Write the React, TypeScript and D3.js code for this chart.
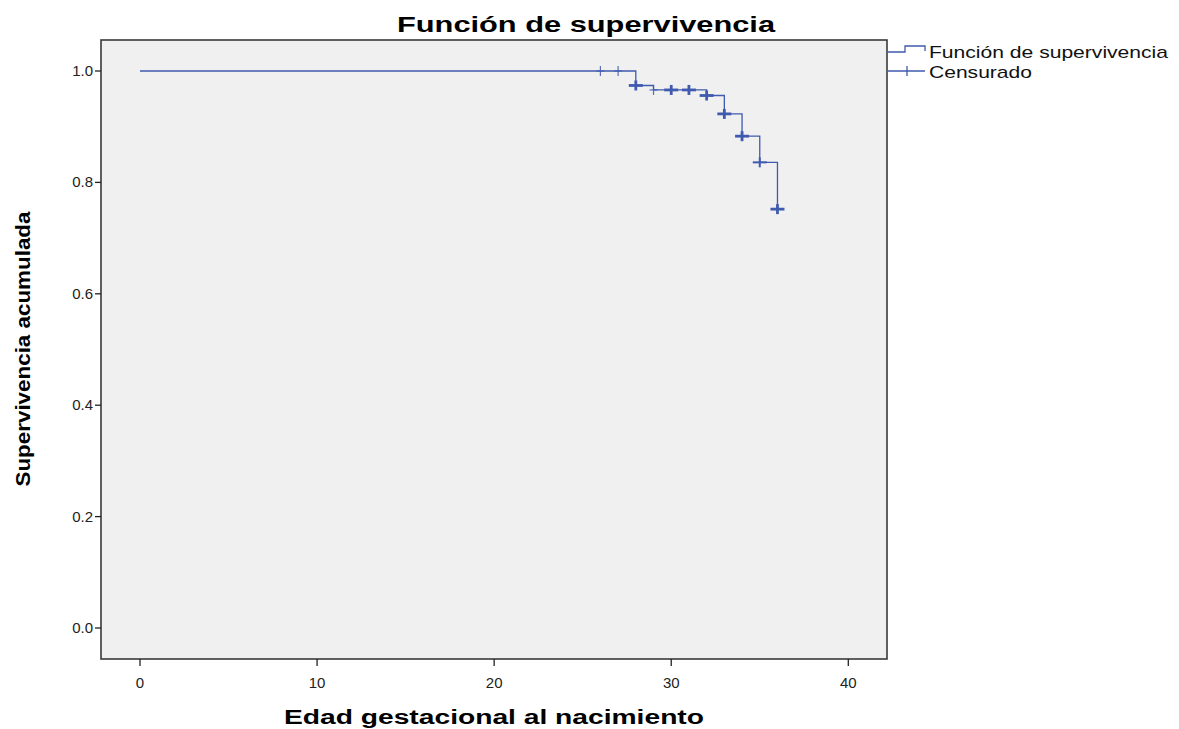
import React from "react";
import * as d3 from "d3";

// Kaplan-Meier step data
const eventTimes = [0, 28, 29, 32, 33, 34, 35, 36];
const survival = [1.0, 0.974, 0.966, 0.956, 0.923, 0.883, 0.836, 0.752];
const censorTimes = [26, 27, 28, 29, 30, 31, 32, 33, 34, 35, 36];
const censorCounts = [1, 1, 3, 1, 3, 3, 3, 3, 3, 2, 3];
const xTicks = [0, 10, 20, 30, 40];
const yTicks = [0.0, 0.2, 0.4, 0.6, 0.8, 1.0];

const W = 1179, H = 729;
const box = { left: 101, top: 40, right: 887, bottom: 659 };
const LINE = "#3f5aae";

export default function App() {
  const x = d3.scaleLinear().domain([0, 40]).range([140, 848.3]);
  const y = d3.scaleLinear().domain([0, 1]).range([628, 71]);

  const stepAt = (t: number) => {
    let s = survival[0];
    for (let i = 0; i < eventTimes.length; i++) if (eventTimes[i] <= t) s = survival[i];
    return s;
  };

  const pts: [number, number][] = eventTimes.map((t, i) => [t, survival[i]]);
  const line = d3
    .line<[number, number]>()
    .x((d) => x(d[0]))
    .y((d) => y(d[1]))
    .curve(d3.curveStepAfter);
  const path = line(pts) as string;

  const font = "'Liberation Sans', Arial, sans-serif";

  return (
    <svg width={W} height={H} style={{ position: "absolute", left: 0, top: 0, background: "#fff" }}>
      <rect x={0} y={0} width={W} height={H} fill="#fff" />
      <text x={586} y={32} textAnchor="middle" fontFamily={font} fontWeight="bold" fontSize={22} textLength={378} lengthAdjust="spacingAndGlyphs" fill="#000">
        Función de supervivencia
      </text>
      <rect x={box.left} y={box.top} width={box.right - box.left} height={box.bottom - box.top} fill="#f0f0f0" stroke="#3a3a3a" strokeWidth={1.6} />

      {/* y axis ticks */}
      {yTicks.map((v) => (
        <g key={"y" + v}>
          <line x1={box.left - 6} x2={box.left} y1={y(v)} y2={y(v)} stroke="#222" strokeWidth={1.3} />
          <text x={box.left - 8} y={y(v) + 5} textAnchor="end" fontFamily={font} fontSize={15} fill="#222">
            {v.toFixed(1)}
          </text>
        </g>
      ))}
      {/* x axis ticks */}
      {xTicks.map((v) => (
        <g key={"x" + v}>
          <line x1={x(v)} x2={x(v)} y1={box.bottom} y2={box.bottom + 7} stroke="#222" strokeWidth={1.3} />
          <text x={x(v)} y={box.bottom + 29} textAnchor="middle" fontFamily={font} fontSize={15} fill="#222">
            {v}
          </text>
        </g>
      ))}

      <text x={494} y={724} textAnchor="middle" fontFamily={font} fontWeight="bold" fontSize={20} textLength={420} lengthAdjust="spacingAndGlyphs" fill="#000">
        Edad gestacional al nacimiento
      </text>
      <text transform={`translate(30,349) rotate(-90)`} textAnchor="middle" fontFamily={font} fontWeight="bold" fontSize={20} textLength={275} lengthAdjust="spacingAndGlyphs" fill="#000">
        Supervivencia acumulada
      </text>

      {/* survival step line */}
      <path d={path} fill="none" stroke={LINE} strokeWidth={1.3} />

      {/* censor marks */}
      {censorTimes.map((t, i) => {
        const cx = x(t);
        const cy = y(stepAt(t));
        const c = censorCounts[i];
        const sw = c === 1 ? 1.2 : c === 2 ? 2.0 : 2.8;
        const hw = c === 1 ? 4 : 7;
        return (
          <g key={"c" + t} stroke={LINE} strokeWidth={sw} opacity={c === 1 ? 0.85 : 1}>
            <line x1={cx - hw} x2={cx + hw} y1={cy} y2={cy} />
            <line x1={cx} x2={cx} y1={cy - 5} y2={cy + 5} />
          </g>
        );
      })}

      {/* legend */}
      <path d="M888,52 H905 V46 H925 V51" fill="none" stroke={LINE} strokeWidth={1.3} />
      <text x={929} y={58} fontFamily={font} fontSize={17} textLength={239} lengthAdjust="spacingAndGlyphs" fill="#111">
        Función de supervivencia
      </text>
      <line x1={888} x2={925} y1={71} y2={71} stroke={LINE} strokeWidth={1.3} />
      <line x1={907} x2={907} y1={66} y2={76} stroke={LINE} strokeWidth={1.3} />
      <text x={929} y={78} fontFamily={font} fontSize={17} textLength={103} lengthAdjust="spacingAndGlyphs" fill="#111">
        Censurado
      </text>
    </svg>
  );
}
